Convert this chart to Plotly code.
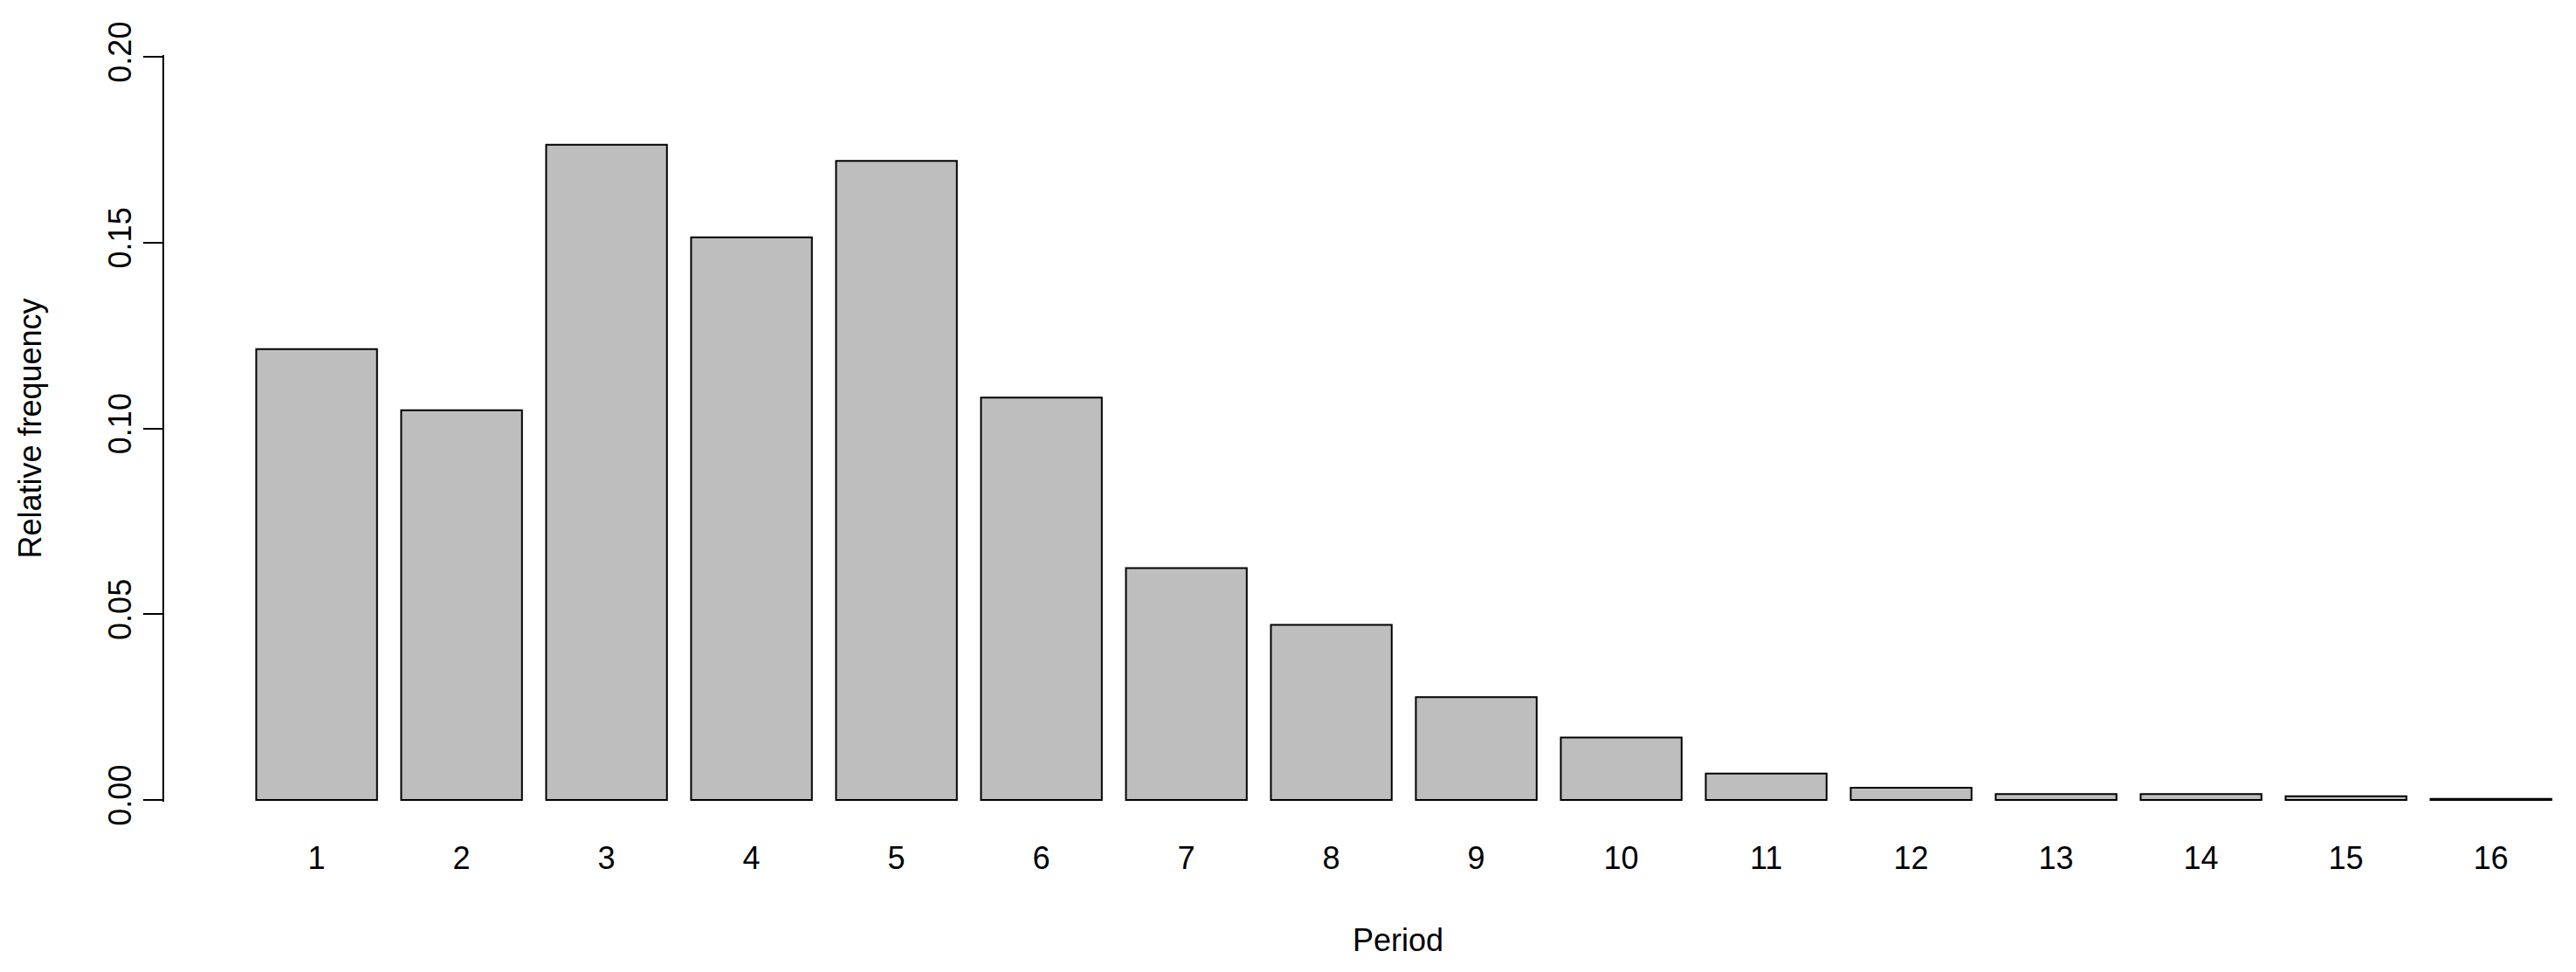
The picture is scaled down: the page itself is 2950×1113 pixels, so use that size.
import plotly.graph_objects as go

# Data
periods = list(range(1, 17))
period_labels = [str(p) for p in periods]
rel_freq = [0.1213, 0.1049, 0.1763, 0.1514, 0.1720, 0.1083, 0.0624, 0.0471,
            0.0277, 0.0168, 0.0071, 0.0033, 0.0016, 0.0016, 0.0010, 0.0003]
y_tickvals = [0.0, 0.05, 0.10, 0.15, 0.20]
y_ticktext = ["0.00", "0.05", "0.10", "0.15", "0.20"]

# page is 2950x1113; the default body margin of 8px offsets the figure
OFF = 8
W, H = 2950 - 2 * OFF, 1113 - 2 * OFF
FONT = "Arial, 'Liberation Sans', sans-serif"

# pixel geometry in page coordinates (layout only)
left_px, right_px = 188, 2940
top_px, bot_px = 63, 918
px_per_x = 166.0
bar1_center_px = 362.6
y0_px, y02_px = 916, 65
px_per_y = (y0_px - y02_px) / 0.2

x_lo = 1 - (bar1_center_px - left_px) / px_per_x
x_hi = 1 + (right_px - bar1_center_px) / px_per_x
y_hi = 0.2 + (y02_px - top_px) / px_per_y
y_lo = 0 - (bot_px - y0_px) / px_per_y

l_m = left_px - OFF
r_m = W - (right_px - OFF)
t_m = top_px - OFF
b_m = H - (bot_px - OFF)

fig = go.Figure()
fig.add_trace(go.Bar(
    x=periods,
    y=rel_freq,
    width=[1 / 1.2] * len(periods),
    marker=dict(color="#BEBEBE", line=dict(color="black", width=2)),
    hoverinfo="x+y",
))

fig.update_layout(
    width=W, height=H,
    margin=dict(l=l_m, r=r_m, t=t_m, b=b_m, pad=0),
    plot_bgcolor="white", paper_bgcolor="white",
    showlegend=False,
    font=dict(family=FONT, size=36, color="black"),
    xaxis=dict(
        range=[x_lo, x_hi],
        tickmode="array", tickvals=periods, ticktext=period_labels,
        showline=False, showgrid=False, zeroline=False, ticks="",
        tickfont=dict(size=36), ticklabelstandoff=40,
    ),
    yaxis=dict(
        range=[y_lo, y_hi],
        tickmode="array", tickvals=y_tickvals, ticktext=y_ticktext,
        showline=True, linecolor="black", linewidth=2,
        ticks="outside", ticklen=22, tickwidth=2, tickcolor="black",
        showgrid=False, zeroline=False,
        tickangle=-90, tickfont=dict(size=36),
        title=dict(text="Relative frequency", font=dict(size=36), standoff=58),
        automargin=False,
    ),
    annotations=[dict(
        text="Period", xref="paper", yref="paper",
        x=(1601 - left_px) / (right_px - left_px),
        y=-(1076 - bot_px) / (bot_px - top_px),
        xanchor="center", yanchor="middle", showarrow=False,
        font=dict(size=36, family=FONT, color="black"),
    )],
)

fig.write_html("out.html")
